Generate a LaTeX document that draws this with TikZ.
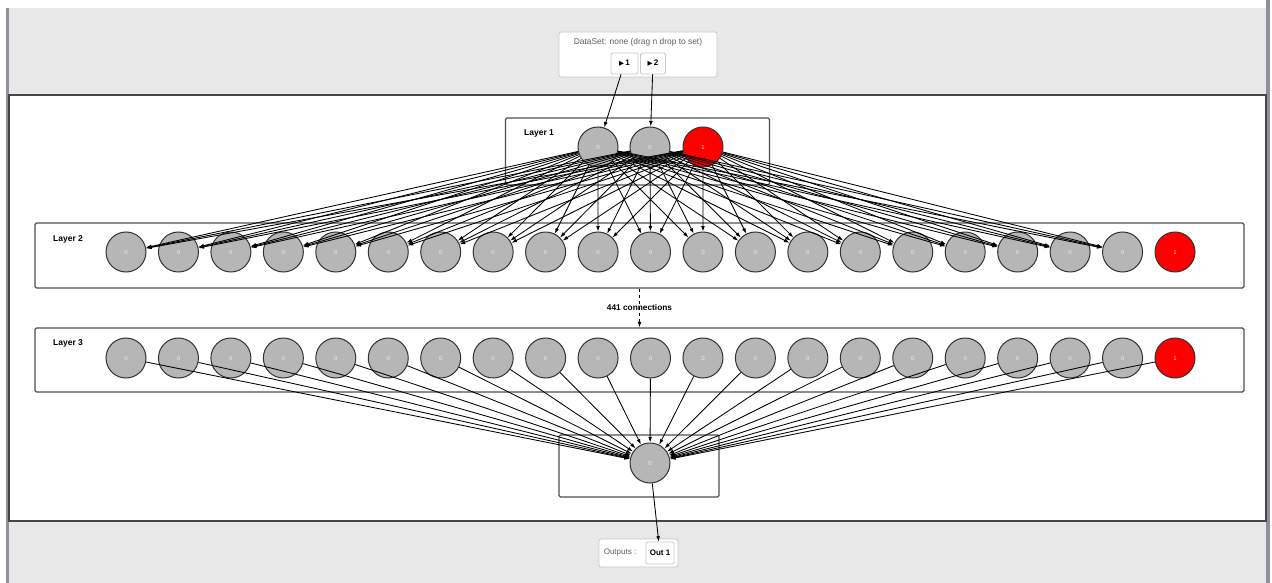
\documentclass[tikz,border=0pt]{standalone}
\usepackage{fontspec}
\setmainfont{Liberation Sans}
\newfontfamily\symfont{DejaVu Sans}
\usetikzlibrary{arrows.meta}
\definecolor{panelgray}{HTML}{E8E8E8}
\definecolor{sidegray}{HTML}{8C919A}
\definecolor{framedark}{HTML}{454545}
\definecolor{boxdark}{HTML}{505050}
\definecolor{neurongray}{HTML}{B6B6B6}
\definecolor{neuronline}{HTML}{333333}
\definecolor{biasred}{HTML}{FF0000}
\definecolor{softline}{HTML}{C8C8C8}
\definecolor{captiongray}{HTML}{606060}
\tikzset{
  neuron/.style={circle, draw=neuronline, line width=1pt, fill=neurongray,
    minimum size=40pt, inner sep=0pt, text=white!92!black,
    font=\fontsize{6}{6}\selectfont},
  bias/.style={neuron, fill=biasred, text=white!88!red},
  layerbox/.style={draw=boxdark, line width=1.3pt, rounded corners=1.5pt,
    fill=white, inner sep=0pt},
  layerlabel/.style={anchor=west, inner sep=0pt,
    font=\fontsize{8.5}{8.5}\selectfont\bfseries},
  conn/.style={black, line width=0.85pt, -{Latex[length=5.5pt,width=3.8pt]}},
  panelbox/.style={draw=softline, line width=0.8pt, rounded corners=2pt,
    fill=white, inner sep=0pt},
  btn/.style={draw=softline, line width=0.8pt, rounded corners=1.5pt,
    fill=white, inner sep=0pt, minimum height=21pt,
    font=\fontsize{8}{8}\selectfont\bfseries},
}
\begin{document}
\begin{tikzpicture}[x=1pt, y=-1pt]
  \useasboundingbox (0,0) rectangle (1272,583);
  % window background, grey header and footer panels
  \fill[white] (0,0) rectangle (1272,583);
  \fill[panelgray] (9,8) rectangle (1266,583);
  \fill[sidegray] (6,8) rectangle (9,583);
  \fill[sidegray] (1266,0) rectangle (1270,583);
  % central network canvas
  \draw[framedark, line width=1.6pt, fill=white] (9,95) rectangle (1266,521);

  % data set panel with input buttons
  \node[panelbox, minimum width=158pt, minimum height=45pt] (dsbox) at (638,54.5) {};
  \node[inner sep=0pt, text=captiongray, font=\fontsize{8.4}{8.4}\selectfont] (dstext) at (638,42) {DataSet: none (drag n drop to set)};
  \node[btn, minimum width=27pt] (in1) at (624.5,63.5) {{\symfont\fontsize{6.5}{6.5}\selectfont ▶}\,1};
  \node[btn, minimum width=25pt] (in2) at (653,63.5) {{\symfont\fontsize{6.5}{6.5}\selectfont ▶}\,2};

  % layer frames
  \node[layerbox, minimum width=264pt, minimum height=67pt] (l1box) at (637.5,151.5) {};
  \node[layerbox, minimum width=1209pt, minimum height=65pt] (l2box) at (639.5,255.5) {};
  \node[layerbox, minimum width=1209pt, minimum height=64pt] (l3box) at (639.5,360) {};
  \node[layerbox, minimum width=160pt, minimum height=62pt] (l4box) at (639,466) {};

  \node[layerlabel] (lab1) at (524,133) {Layer 1};
  \node[layerlabel] (lab2) at (53,239) {Layer 2};
  \node[layerlabel] (lab3) at (53,343) {Layer 3};

  % layer 1 neurons
  \node[neuron] (l1n1) at (598,147) {0};
  \node[neuron] (l1n2) at (650,147) {0};
  \node[bias]   (l1n3) at (703,147) {1};

  % layers 2 and 3: twenty neurons plus a bias neuron each
  \foreach \j [evaluate=\j as \x using 126+(\j-1)*52.45] in {1,...,20} {
    \node[neuron] (l2n\j) at (\x,252) {0};
    \node[neuron] (l3n\j) at (\x,358) {0};
  }
  \node[bias] (l2n21) at (1175,252) {1};
  \node[bias] (l3n21) at (1175,358) {1};

  % output neuron
  \node[neuron] (out) at (650,463) {0};

  % outputs panel
  \node[panelbox, minimum width=79pt, minimum height=28pt] (outbox) at (638.5,553) {};
  \node[inner sep=0pt, text=captiongray, font=\fontsize{8}{8}\selectfont] (outtext) at (620,553) {Outputs :};
  \node[btn, minimum width=28pt, minimum height=22pt] (outbtn) at (660,553) {Out 1};

  % connections: inputs to layer 1
  \draw[conn] (in1) -- (l1n1);
  \draw[conn] (in2) -- (l1n2);
  % layer 1 fully connected to layer 2
  \foreach \i in {1,2,3}
    \foreach \j in {1,...,20}
      \draw[conn] (l1n\i) -- (l2n\j);
  % layer 2 to layer 3, summarised
  \draw[black, line width=0.8pt, dashed, -{Latex[length=5.5pt,width=3.8pt]}] (l2box.south) -- (l3box.north)
    node[midway, inner sep=0pt, font=\fontsize{8.3}{8.3}\selectfont\bfseries] (summary) {441 connections};
  % layer 3 fully connected to the output neuron
  \foreach \j in {1,...,21}
    \draw[conn] (l3n\j) -- (out);
  % output neuron to the output button
  \draw[conn] (out) -- (outbtn);
\end{tikzpicture}
\end{document}
